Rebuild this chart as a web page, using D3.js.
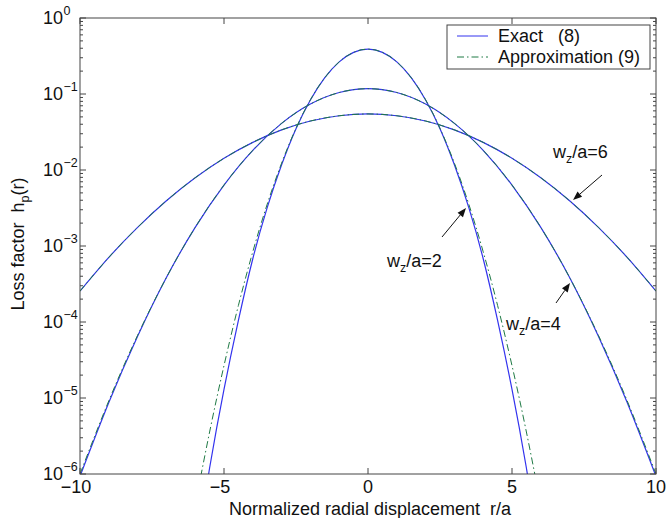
<!DOCTYPE html>
<html>
<head>
<meta charset="utf-8">
<script src="https://cdn.jsdelivr.net/npm/d3@7"></script>
<style>
  body { margin: 0; background: #fff; }
  svg { display: block; font-family: "Liberation Sans", Arial, sans-serif; }
  text { fill: #111; }
</style>
</head>
<body>
<svg id="chart" width="666" height="518"></svg>
<script>
// Radial positions (r/a).
const rNarrow = [-6, -5.5, -5, -4.5, -4, -3.5, -3, -2.5, -2, -1.5, -1, -0.5, 0,
  0.5, 1, 1.5, 2, 2.5, 3, 3.5, 4, 4.5, 5, 5.5, 6];
const rWide = [-10, -9, -8, -7, -6, -5, -4, -3, -2, -1, 0, 1, 2, 3, 4, 5, 6, 7, 8, 9, 10];

// w_z/a = 2
const exact2 = [8e-8, 1.2e-6, 1.3e-5, 1.05e-4, 6.8e-4, 3.2e-3, 0.0117, 0.035, 0.0835, 0.164, 0.265, 0.353, 0.389,
  0.353, 0.265, 0.164, 0.0835, 0.035, 0.0117, 3.2e-3, 6.8e-4, 1.05e-4, 1.3e-5, 1.2e-6, 8e-8];
const approx2 = [3.9e-7, 3.57e-6, 2.67e-5, 1.65e-4, 8.4e-4, 3.55e-3, 0.0123, 0.0354, 0.0839, 0.164, 0.265, 0.353, 0.389,
  0.353, 0.265, 0.164, 0.0839, 0.0354, 0.0123, 3.55e-3, 8.4e-4, 1.65e-4, 2.67e-5, 3.57e-6, 3.9e-7];

// w_z/a = 4
const exact4 = [9.3e-7, 8.7e-6, 6.5e-5, 3.85e-4, 1.76e-3, 6.34e-3, 0.01815, 0.0411, 0.0737, 0.1046, 0.1175,
  0.1046, 0.0737, 0.0411, 0.01815, 6.34e-3, 1.76e-3, 3.85e-4, 6.5e-5, 8.7e-6, 9.3e-7];
const approx4 = [1.0e-6, 9.18e-6, 6.68e-5, 3.85e-4, 1.76e-3, 6.34e-3, 0.01815, 0.0411, 0.0737, 0.1046, 0.1175,
  0.1046, 0.0737, 0.0411, 0.01815, 6.34e-3, 1.76e-3, 3.85e-4, 6.68e-5, 9.18e-6, 1.0e-6];

// w_z/a = 6
const exact6 = [2.55e-4, 7.08e-4, 1.76e-3, 3.94e-3, 7.9e-3, 0.01426, 0.0231, 0.0337, 0.0441, 0.0517, 0.0546,
  0.0517, 0.0441, 0.0337, 0.0231, 0.01426, 7.9e-3, 3.94e-3, 1.76e-3, 7.08e-4, 2.55e-4];
const approx6 = exact6.slice();

const xTicks = [-10, -5, 0, 5, 10];
const yExponents = [0, -1, -2, -3, -4, -5, -6];

const BLUE = '#3333ee';
const GREEN = '#1f7a45';
const FS = 18, FS_SMALL = 12.5;

const svg = d3.select('#chart');
const plotL = 80, plotR = 656, plotT = 18, plotB = 474;

const x = d3.scaleLinear().domain([-10, 10]).range([plotL, plotR]);
const y = d3.scaleLog().domain([1e-6, 1]).range([plotB, plotT]);

svg.append('clipPath').attr('id', 'plotClip')
  .append('rect')
    .attr('x', plotL).attr('y', plotT)
    .attr('width', plotR - plotL).attr('height', plotB - plotT);

const plot = svg.append('g').attr('clip-path', 'url(#plotClip)');

const line = d3.line()
  .x((d) => x(d[0]))
  .y((d) => y(d[1]))
  .curve(d3.curveNatural);

const series = [
  { r: rNarrow, v: exact2, kind: 'exact' },
  { r: rWide, v: exact4, kind: 'exact' },
  { r: rWide, v: exact6, kind: 'exact' },
  { r: rNarrow, v: approx2, kind: 'approx' },
  { r: rWide, v: approx4, kind: 'approx' },
  { r: rWide, v: approx6, kind: 'approx' },
];

plot.selectAll('path.curve').data(series)
  .enter().append('path')
    .attr('class', 'curve')
    .attr('d', (s) => line(s.r.map((r, i) => [r, s.v[i]])))
    .attr('fill', 'none')
    .attr('stroke', (s) => s.kind === 'exact' ? BLUE : GREEN)
    .attr('stroke-width', (s) => s.kind === 'exact' ? 1.2 : 1)
    .attr('stroke-dasharray', (s) => s.kind === 'exact' ? null : '7,3,1.5,3');

// Axes box and ticks (MATLAB style, ticks inside on all sides)
const axisG = svg.append('g').attr('stroke', '#444').attr('stroke-width', 1);
axisG.append('rect')
  .attr('x', plotL).attr('y', plotT)
  .attr('width', plotR - plotL).attr('height', plotB - plotT)
  .attr('fill', 'none');

xTicks.forEach((t) => {
  axisG.append('line').attr('x1', x(t)).attr('x2', x(t)).attr('y1', plotB).attr('y2', plotB - 6);
  axisG.append('line').attr('x1', x(t)).attr('x2', x(t)).attr('y1', plotT).attr('y2', plotT + 6);
});

yExponents.forEach((e) => {
  const yy = y(Math.pow(10, e));
  axisG.append('line').attr('x1', plotL).attr('x2', plotL + 6).attr('y1', yy).attr('y2', yy);
  axisG.append('line').attr('x1', plotR).attr('x2', plotR - 6).attr('y1', yy).attr('y2', yy);
  if (e > -6) {
    for (let k = 2; k <= 9; k++) {
      const ym = y(k * Math.pow(10, e - 1));
      axisG.append('line').attr('x1', plotL).attr('x2', plotL + 3).attr('y1', ym).attr('y2', ym);
      axisG.append('line').attr('x1', plotR).attr('x2', plotR - 3).attr('y1', ym).attr('y2', ym);
    }
  }
});

// Tick labels
svg.selectAll('text.xtick').data(xTicks)
  .enter().append('text')
    .attr('class', 'xtick')
    .attr('x', (d) => x(d) + (d < 0 ? -4 : 0))
    .attr('y', 493)
    .attr('text-anchor', 'middle')
    .attr('font-size', FS)
    .text((d) => d < 0 ? '\u2212' + Math.abs(d) : d);

yExponents.forEach((e) => {
  const yy = y(Math.pow(10, e));
  svg.append('text')
    .attr('x', 63).attr('y', yy + 6)
    .attr('text-anchor', 'end')
    .attr('font-size', FS)
    .text('10');
  svg.append('text')
    .attr('x', 63.5).attr('y', yy - 3)
    .attr('font-size', FS_SMALL)
    .text(e < 0 ? '\u2212' + Math.abs(e) : e);
});

// Axis titles
svg.append('text')
  .attr('x', 370).attr('y', 514.5)
  .attr('text-anchor', 'middle')
  .attr('font-size', FS)
  .attr('xml:space', 'preserve')
  .text('Normalized radial displacement  r/a');

const yl = svg.append('text')
  .attr('transform', 'translate(24,244) rotate(-90)')
  .attr('text-anchor', 'middle')
  .attr('font-size', FS)
  .attr('xml:space', 'preserve');
yl.append('tspan').text('Loss factor  h');
yl.append('tspan').attr('font-size', FS_SMALL).attr('dy', 5).text('p');
yl.append('tspan').attr('dy', -5).text('(r)');

// Annotations: label text and arrow from tail to tip
const notes = [
  { w: 6, tx: 553, ty: 158, from: [602, 175], to: [573, 200] },
  { w: 2, tx: 387, ty: 267, from: [442, 237], to: [466, 208] },
  { w: 4, tx: 506, ty: 330, from: [556, 303], to: [570, 283] },
];

notes.forEach((n) => {
  const t = svg.append('text').attr('x', n.tx).attr('y', n.ty).attr('font-size', FS);
  t.append('tspan').text('w');
  t.append('tspan').attr('font-size', FS_SMALL).attr('dy', 5).text('z');
  t.append('tspan').attr('dy', -5).text('/a=' + n.w);

  const [x1, y1] = n.from, [x2, y2] = n.to;
  const ang = Math.atan2(y2 - y1, x2 - x1);
  const hl = 9, hw = 3.5;
  const bx = x2 - hl * Math.cos(ang), by = y2 - hl * Math.sin(ang);
  svg.append('line')
    .attr('x1', x1).attr('y1', y1).attr('x2', bx).attr('y2', by)
    .attr('stroke', '#111').attr('stroke-width', 1);
  svg.append('path')
    .attr('d', `M${x2},${y2}L${bx - hw * Math.sin(ang)},${by + hw * Math.cos(ang)}L${bx + hw * Math.sin(ang)},${by - hw * Math.cos(ang)}Z`)
    .attr('fill', '#111');
});

// Legend
const lg = svg.append('g');
lg.append('rect')
  .attr('x', 447).attr('y', 25).attr('width', 203).attr('height', 44)
  .attr('fill', '#fff').attr('stroke', '#444');
const legendItems = [
  { label: 'Exact   (8)', color: BLUE, dash: null, yy: 36 },
  { label: 'Approximation (9)', color: GREEN, dash: '7,3,1.5,3', yy: 57 },
];
legendItems.forEach((it) => {
  lg.append('line')
    .attr('x1', 457).attr('x2', 488).attr('y1', it.yy).attr('y2', it.yy)
    .attr('stroke', it.color).attr('stroke-width', 1)
    .attr('stroke-dasharray', it.dash);
  lg.append('text')
    .attr('x', 498).attr('y', it.yy + 6)
    .attr('font-size', FS)
    .attr('xml:space', 'preserve')
    .text(it.label);
});
</script>
</body>
</html>
